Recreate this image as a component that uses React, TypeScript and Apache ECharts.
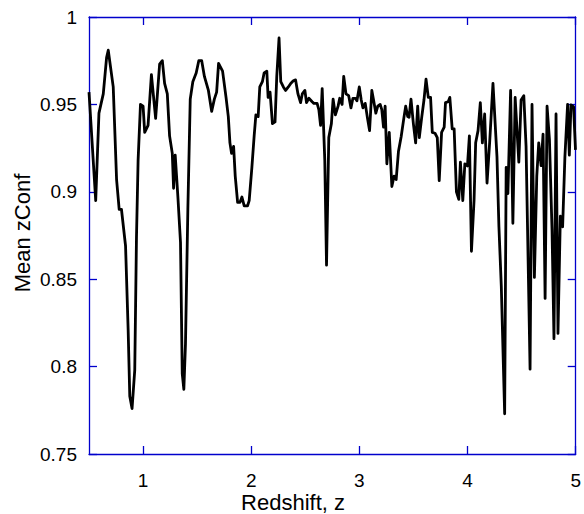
import React, { useEffect, useRef } from "react";
import * as echarts from "echarts";

const redshift: number[] = [
  0.5, 0.562, 0.592, 0.632, 0.663, 0.678, 0.724, 0.755, 0.779, 0.8,
  0.838, 0.862, 0.877, 0.898, 0.923, 0.939, 0.954, 0.976, 1.0, 1.015,
  1.046, 1.077, 1.116, 1.153, 1.178, 1.199, 1.224, 1.245, 1.27, 1.282,
  1.297, 1.322, 1.346, 1.362, 1.377, 1.392, 1.414, 1.436, 1.46, 1.491,
  1.515, 1.542, 1.567, 1.604, 1.634, 1.659, 1.68, 1.698, 1.735, 1.767,
  1.788, 1.803, 1.818, 1.837, 1.852, 1.874, 1.896, 1.914, 1.935, 1.966,
  1.981, 2.006, 2.027, 2.043, 2.064, 2.079, 2.103, 2.119, 2.144, 2.156,
  2.174, 2.196, 2.22, 2.236, 2.257, 2.273, 2.297, 2.318, 2.343, 2.365,
  2.389, 2.41, 2.432, 2.456, 2.472, 2.496, 2.511, 2.533, 2.563, 2.579,
  2.609, 2.625, 2.641, 2.656, 2.68, 2.696, 2.717, 2.741, 2.757, 2.778,
  2.803, 2.818, 2.84, 2.855, 2.876, 2.901, 2.922, 2.94, 2.963, 2.977,
  2.999, 3.017, 3.033, 3.054, 3.075, 3.094, 3.115, 3.131, 3.152, 3.17,
  3.192, 3.207, 3.223, 3.238, 3.254, 3.276, 3.3, 3.321, 3.34, 3.361,
  3.386, 3.413, 3.428, 3.447, 3.459, 3.477, 3.499, 3.52, 3.539, 3.554,
  3.575, 3.597, 3.616, 3.637, 3.658, 3.674, 3.699, 3.72, 3.738, 3.76,
  3.784, 3.796, 3.821, 3.836, 3.858, 3.876, 3.897, 3.919, 3.934, 3.956,
  3.975, 3.999, 4.017, 4.036, 4.06, 4.075, 4.097, 4.118, 4.137, 4.158,
  4.18, 4.205, 4.235, 4.272, 4.29, 4.312, 4.343, 4.357, 4.373, 4.398,
  4.419, 4.44, 4.474, 4.495, 4.52, 4.541, 4.578, 4.596, 4.618, 4.64,
  4.658, 4.68, 4.698, 4.717, 4.735, 4.757, 4.781, 4.799, 4.818, 4.836,
  4.858, 4.879, 4.9, 4.925, 4.941, 4.956, 4.98, 4.998,
];

const meanZConf: number[] = [
  0.957, 0.895, 0.945, 0.956, 0.977, 0.981, 0.96, 0.907, 0.89, 0.89,
  0.869, 0.821, 0.783, 0.776, 0.798, 0.874, 0.918, 0.95, 0.949, 0.934,
  0.938, 0.967, 0.942, 0.973, 0.975, 0.962, 0.956, 0.932, 0.922, 0.902,
  0.921, 0.897, 0.871, 0.796, 0.787, 0.813, 0.89, 0.953, 0.963, 0.968,
  0.975, 0.975, 0.966, 0.958, 0.946, 0.953, 0.957, 0.9735, 0.969, 0.954,
  0.943, 0.928, 0.922, 0.926, 0.909, 0.894, 0.894, 0.897, 0.892, 0.892,
  0.895, 0.914, 0.932, 0.944, 0.943, 0.96, 0.963, 0.968, 0.969, 0.954,
  0.957, 0.939, 0.94, 0.966, 0.988, 0.963, 0.96, 0.958, 0.96, 0.962,
  0.9635, 0.964, 0.956, 0.951, 0.956, 0.958, 0.951, 0.9535, 0.9515, 0.9506,
  0.9506, 0.947, 0.938, 0.959, 0.918, 0.858, 0.931, 0.939, 0.953, 0.944,
  0.949, 0.9535, 0.95, 0.966, 0.956, 0.955, 0.948, 0.9535, 0.9535, 0.952,
  0.96, 0.9525, 0.948, 0.9506, 0.942, 0.935, 0.958, 0.9525, 0.945, 0.949,
  0.95, 0.947, 0.937, 0.949, 0.916, 0.934, 0.903, 0.909, 0.907, 0.923,
  0.9315, 0.943, 0.949, 0.943, 0.9426, 0.953, 0.939, 0.928, 0.949, 0.931,
  0.942, 0.9525, 0.9644, 0.954, 0.954, 0.934, 0.9335, 0.931, 0.9064, 0.934,
  0.937, 0.951, 0.9515, 0.954, 0.936, 0.936, 0.9, 0.8957, 0.917, 0.895,
  0.916, 0.9148, 0.932, 0.866, 0.895, 0.928, 0.935, 0.951, 0.928, 0.9445,
  0.905, 0.929, 0.962, 0.92, 0.88, 0.846, 0.773, 0.914, 0.899, 0.958,
  0.882, 0.954, 0.917, 0.9525, 0.955, 0.926, 0.7985, 0.95, 0.851, 0.909,
  0.928, 0.915, 0.933, 0.839, 0.949, 0.93, 0.878, 0.816, 0.9445, 0.819,
  0.886, 0.88, 0.92, 0.95, 0.921, 0.9497, 0.9487, 0.924,
];

const xTicks: number[] = [1, 2, 3, 4, 5];

const FONT = "Liberation Sans, Arial, sans-serif";
const BLUE = "#0000CC";

export default function App() {
  const ref = useRef<HTMLDivElement>(null);
  useEffect(() => {
    document.body.style.margin = "0";
    if (!ref.current) return;
    const chart = echarts.init(ref.current, undefined, { renderer: "svg" });
    const data = redshift.map((z, i) => [z, meanZConf[i]]);
    const axisLine = { show: true, lineStyle: { color: BLUE, width: 1.3 } };
    const tick = { show: true, inside: true, length: 8, lineStyle: { color: BLUE, width: 1.3 } };
    chart.setOption({
      animation: false,
      backgroundColor: "#ffffff",
      grid: { left: 89, top: 17, right: 6, bottom: 60, containLabel: false },
      xAxis: [
        {
          type: "value",
          min: 0.5,
          max: 5,
          position: "bottom",
          axisLine,
          axisTick: { ...tick, customValues: xTicks },
          axisLabel: {
            customValues: xTicks,
            color: "#000",
            fontFamily: FONT,
            fontSize: 19,
            margin: 17,
            formatter: (v: number) => String(v),
          },
          splitLine: { show: false },
        },
        {
          type: "value",
          min: 0.5,
          max: 5,
          position: "top",
          axisLine,
          axisTick: { ...tick, customValues: xTicks },
          axisLabel: { show: false },
          splitLine: { show: false },
        },
      ],
      yAxis: [
        {
          type: "value",
          min: 0.75,
          max: 1,
          interval: 0.05,
          position: "left",
          axisLine,
          axisTick: tick,
          axisLabel: {
            color: "#000",
            fontFamily: FONT,
            fontSize: 19,
            margin: 12,
            formatter: (v: number) => String(+v.toFixed(2)),
          },
          splitLine: { show: false },
        },
        {
          type: "value",
          min: 0.75,
          max: 1,
          interval: 0.05,
          position: "right",
          axisLine,
          axisTick: tick,
          axisLabel: { show: false },
          splitLine: { show: false },
        },
      ],
      graphic: [
        {
          type: "text",
          x: 293,
          y: 502,
          style: {
            text: "Redshift, z",
            fontFamily: FONT,
            fontSize: 22,
            fill: "#000",
            align: "center",
            verticalAlign: "middle",
          },
        },
        {
          type: "text",
          x: 22,
          y: 233,
          rotation: Math.PI / 2,
          style: {
            text: "Mean zConf",
            fontFamily: FONT,
            fontSize: 22,
            fill: "#000",
            align: "center",
            verticalAlign: "middle",
          },
        },
      ],
      series: [
        {
          type: "line",
          data,
          showSymbol: false,
          symbol: "none",
          clip: true,
          lineStyle: { color: "#000", width: 2.8, join: "round" },
          xAxisIndex: 0,
          yAxisIndex: 0,
        },
      ],
    });
    return () => chart.dispose();
  }, []);
  return <div ref={ref} style={{ width: 584, height: 514 }} />;
}
